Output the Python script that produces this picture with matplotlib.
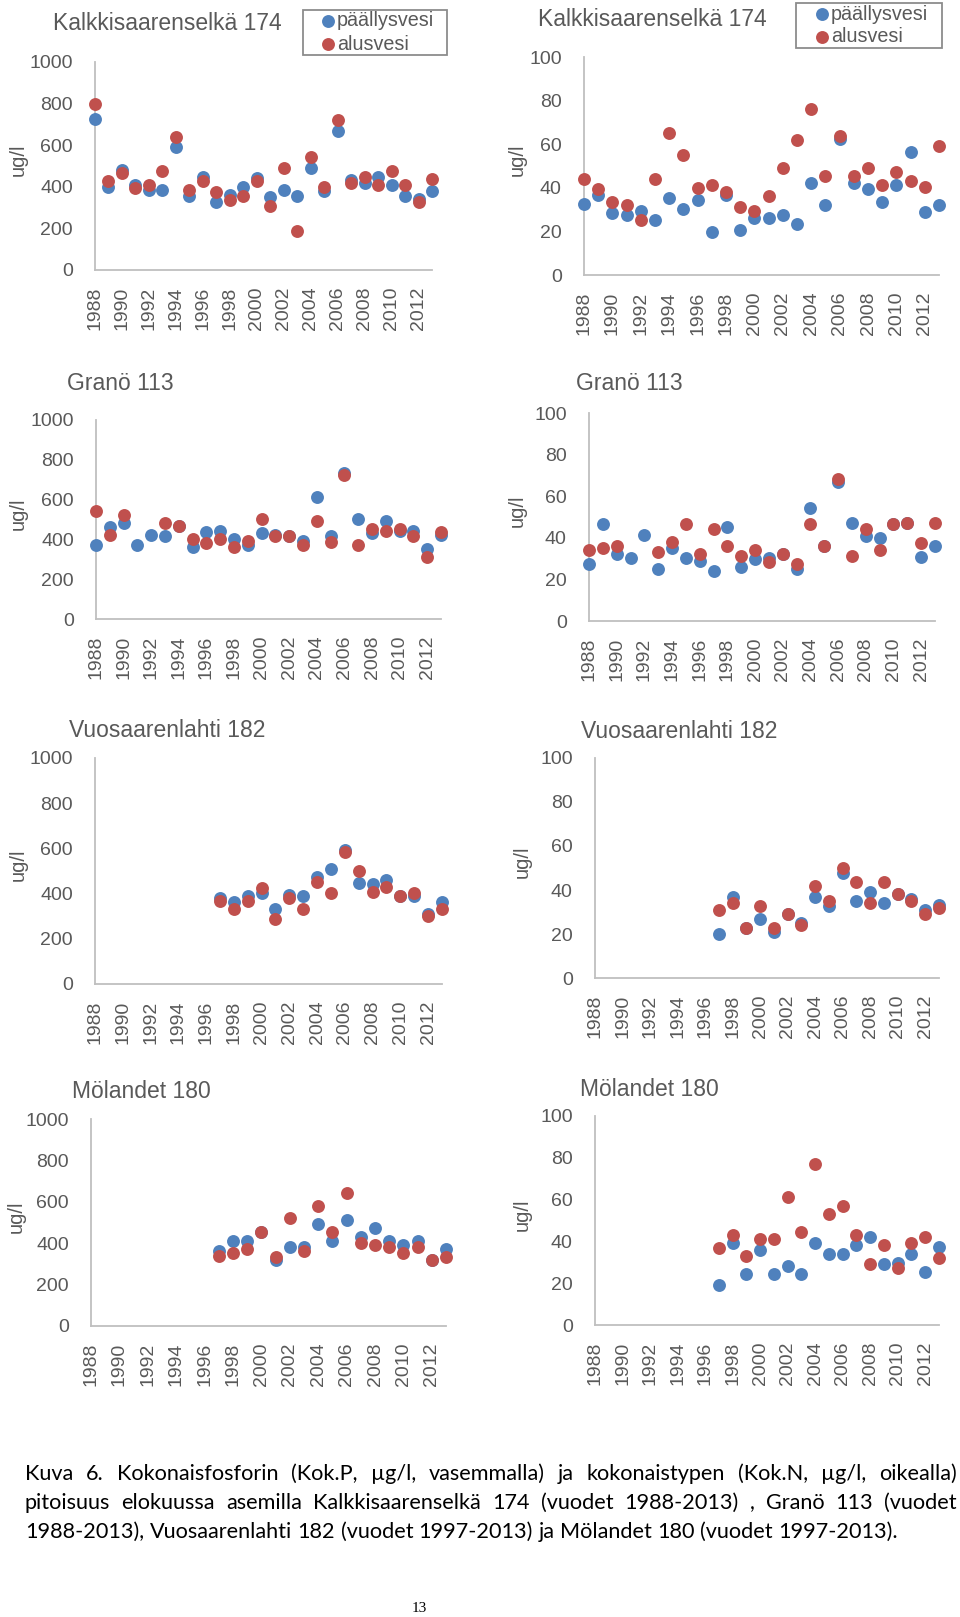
import numpy as np
import matplotlib
matplotlib.use("Agg")
import matplotlib.pyplot as plt
from matplotlib.lines import Line2D
from matplotlib.patches import Rectangle

nan = np.nan
years = np.arange(1988, 2014)
years97 = np.arange(1997, 2014)
xticks = np.arange(1988, 2013, 2)

# Kalkkisaarenselkä 174, 1988-2013
kalk_p_surf = [728, 397, 480, 411, 387, 387, 589, 357, 448, 325, 360, 400, 440,
               349, 387, 357, 488, 379, 669, 432, 419, 448, 408, 357, 341, 379]
kalk_p_bott = [800, 427, 467, 395, 411, 477, 640, 387, 427, 376, 336, 357, 427,
               309, 488, 187, 541, 400, 720, 419, 448, 408, 477, 408, 328, 437]
kalk_n_surf = [32.6, 36.7, 28.3, 27.3, 29.4, 25.3, 35.5, 30.5, 34.5, 19.8, 36.7, 20.7, 26.0,
               26.3, 27.3, 23.4, 42.4, 32.3, 62.3, 42.1, 39.4, 33.4, 41.3, 56.2, 29.1, 32.2]
kalk_n_bott = [44.1, 39.4, 33.4, 32.3, 25.3, 44.1, 65.1, 55.1, 40.1, 41.3, 38.3, 31.4, 29.4,
               36.3, 49.3, 62.0, 76.1, 45.2, 63.6, 45.2, 49.3, 41.3, 47.2, 43.2, 40.3, 59.3]

# Granö 113, 1988-2013
gran_p_surf = [373, 462, 482, 373, 423, 415, 465, 361, 435, 440, 403, 373, 431,
               423, 415, 393, 615, 415, 736, 502, 431, 490, 443, 443, 351, 423]
gran_p_bott = [543, 423, 523, nan, nan, 482, 465, 403, 381, 403, 361, 393, 502,
               415, 415, 373, 493, 385, 724, 373, 453, 443, 452, 415, 311, 435]
gran_n_surf = [27.2, 46.4, 32.2, 30.1, 41.3, 25.0, 35.2, 30.1, 29.0, 24.2, 45.3, 26.1, 29.8,
               30.4, 32.2, 25.0, 54.1, 36.2, 66.9, 47.2, 41.0, 40.0, 46.4, 47.2, 30.9, 36.2]
gran_n_bott = [34.1, 34.9, 36.2, nan, nan, 33.0, 38.1, 46.4, 32.2, 44.0, 36.2, 31.2, 34.1,
               28.2, 32.2, 27.2, 46.4, 36.2, 68.5, 31.2, 44.0, 34.1, 46.4, 47.2, 37.3, 47.2]

# Vuosaarenlahti 182, 1997-2013
vuos_p_surf = [380, 362, 391, 402, 331, 394, 391, 473, 510, 594, 449, 443, 461, 391, 390, 310, 362]
vuos_p_bott = [369, 331, 369, 424, 288, 380, 331, 451, 402, 582, 501, 409, 431, 391, 402, 301, 331]
vuos_n_surf = [19.8, 36.9, 22.9, 26.7, 21.0, 29.0, 25.2, 36.9, 32.8, 47.6, 35.0, 38.9, 33.9,
               38.0, 35.9, 30.9, 33.1]
vuos_n_bott = [30.9, 33.9, 22.9, 32.8, 22.8, 29.0, 24.0, 41.9, 35.0, 50.2, 43.8, 33.9, 43.8,
               38.0, 35.0, 29.0, 31.9]

# Mölandet 180, 1997-2013
mola_p_surf = [363, 411, 411, 452, 319, 381, 381, 494, 411, 513, 432, 473, 411, 392, 413, 319, 373]
mola_p_bott = [340, 352, 373, 452, 335, 524, 363, 582, 452, 642, 403, 392, 384, 352, 384, 319, 332]
mola_n_surf = [19.1, 39.0, 24.4, 36.1, 24.4, 28.2, 24.4, 39.3, 34.2, 34.2, 38.2, 42.2, 29.1,
               29.5, 34.2, 25.2, 37.4]
mola_n_bott = [36.9, 43.3, 33.1, 41.1, 41.1, 61.3, 44.3, 77.2, 53.0, 57.0, 43.3, 29.1, 38.2,
               27.4, 39.3, 42.2, 32.2]

legend_labels = ['päällysvesi', 'alusvesi']

BLUE = '#4F81BD'
RED = '#C0504D'
GREY_TXT = '#595959'
GREY_AX = '#BFBFBF'
W, H = 960, 1617

fig = plt.figure(figsize=(W / 100, H / 100), dpi=100)
plt.rcParams['font.family'] = ['Liberation Sans', 'DejaVu Sans']


def fx(x):
    return x / W


def fy(y):
    return 1 - y / H


def panel(box, title, title_xy, x, surf, bott, ymax, ylab_x):
    l, r, t, b = box
    ax = fig.add_axes([fx(l), fy(b), fx(r - l), (b - t) / H])
    ax.plot(x, surf, 'o', color=BLUE, ms=9.3, mew=0, clip_on=False, zorder=3)
    ax.plot(x, bott, 'o', color=RED, ms=9.3, mew=0, clip_on=False, zorder=4)
    ax.set_xlim(1988, 2013)
    ax.set_ylim(0, ymax)
    ax.set_yticks(np.linspace(0, ymax, 6))
    ax.set_xticks(xticks)
    ax.set_xticklabels([str(v) for v in xticks], rotation=90)
    for s in ['top', 'right']:
        ax.spines[s].set_visible(False)
    for s in ['left', 'bottom']:
        ax.spines[s].set_color(GREY_AX)
        ax.spines[s].set_linewidth(1.3)
    ax.tick_params(length=0, labelsize=14, colors=GREY_TXT)
    ax.tick_params(axis='y', pad=16)
    ax.tick_params(axis='x', pad=12)
    fig.text(fx(title_xy[0]), fy(title_xy[1]), title, fontsize=16.5, color=GREY_TXT,
             ha='left', va='center')
    fig.text(fx(ylab_x), fy((t + b) / 2 - 6), 'ug/l', fontsize=14.5, color=GREY_TXT,
             rotation=90, ha='center', va='center')
    return ax


def legend_box(box, dot_x, text_x, rows_y):
    l, r, t, b = box
    fig.patches.append(Rectangle((fx(l), fy(b)), fx(r - l), (b - t) / H, transform=fig.transFigure,
                                 facecolor='white', edgecolor='#8C8C8C', lw=1.3, zorder=5))
    for lab, col, yy in zip(legend_labels, [BLUE, RED], rows_y):
        fig.lines.append(Line2D([fx(dot_x)], [fy(yy)], ls='', marker='o', ms=9.3, mew=0,
                                color=col, transform=fig.transFigure, zorder=6))
        fig.text(fx(text_x), fy(yy), lab, fontsize=14.2, color=GREY_TXT,
                 ha='left', va='center', zorder=6)


panel((95, 432, 62, 270), 'Kalkkisaarenselkä 174', (53, 24), years, kalk_p_surf, kalk_p_bott, 1000, 18)
panel((584, 939, 57, 275), 'Kalkkisaarenselkä 174', (538, 19), years, kalk_n_surf, kalk_n_bott, 100, 517)
panel((96, 441, 420, 619), 'Granö 113', (67, 383), years, gran_p_surf, gran_p_bott, 1000, 18)
panel((589, 935, 413, 621), 'Granö 113', (576, 383), years, gran_n_surf, gran_n_bott, 100, 517)
panel((95, 442, 758, 984), 'Vuosaarenlahti 182', (69, 730), years97, vuos_p_surf, vuos_p_bott, 1000, 18)
panel((595, 939, 758, 978), 'Vuosaarenlahti 182', (581, 731), years97, vuos_n_surf, vuos_n_bott, 100, 522)
panel((91, 446, 1119, 1326), 'Mölandet 180', (72, 1092), years97, mola_p_surf, mola_p_bott, 1000, 16)
panel((595, 939, 1116, 1325), 'Mölandet 180', (580, 1090), years97, mola_n_surf, mola_n_bott, 100, 522)

legend_box((303, 447, 10, 55), 328, 337, (21, 44))
legend_box((796, 942, 3, 48), 822, 831, (14, 37))

# caption, justified like the document text
cap_lines = [
    'Kuva 6. Kokonaisfosforin (Kok.P, µg/l, vasemmalla) ja kokonaistypen (Kok.N, µg/l, oikealla)',
    'pitoisuus elokuussa asemilla Kalkkisaarenselkä 174 (vuodet 1988-2013) , Granö 113 (vuodet',
    '1988-2013), Vuosaarenlahti 182 (vuodet 1997-2013) ja Mölandet 180 (vuodet 1997-2013).',
]
cap_y = [1480, 1509, 1538]
x0, x1 = 25, 957
renderer = fig.canvas.get_renderer()
cap_font = ['Lato', 'DejaVu Sans']
cap_size = 15.6

t1 = fig.text(0, 0, 'a a', fontsize=cap_size, family=cap_font)
t2 = fig.text(0, 0, 'aa', fontsize=cap_size, family=cap_font)
sp_w = t1.get_window_extent(renderer).width - t2.get_window_extent(renderer).width
t1.remove()
t2.remove()

for i, (line, yb) in enumerate(zip(cap_lines, cap_y)):
    words = line.split(' ')
    objs = [fig.text(0, fy(yb), w, fontsize=cap_size, family=cap_font, color='black',
                     ha='left', va='baseline') for w in words]
    widths = [o.get_window_extent(renderer).width for o in objs]
    if i < 2:
        gap = (x1 - x0 - sum(widths)) / (len(words) - 1)
    else:
        gap = sp_w
    x = x0
    for o, w in zip(objs, widths):
        o.set_x(fx(x))
        x += w + gap

fig.text(fx(419), fy(1612), '13', fontsize=11, family=['Liberation Serif', 'DejaVu Serif'],
         ha='center', va='baseline')

fig.savefig('out.png', dpi=100, facecolor='white')
